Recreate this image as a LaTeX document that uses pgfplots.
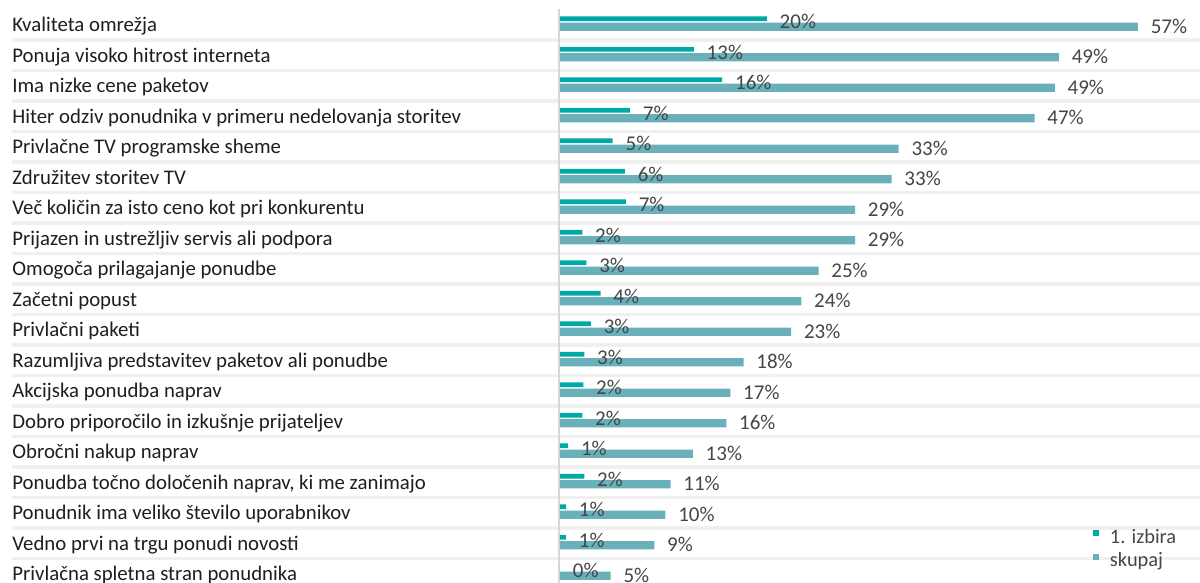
\documentclass[border=0pt]{standalone}
\usepackage{fontspec}
\setmainfont{Carlito}
\usepackage{pgfplots}
\pgfplotsset{compat=1.18}
\definecolor{cA}{RGB}{0,168,166}
\definecolor{cB}{RGB}{106,176,186}
\definecolor{sepc}{RGB}{240,240,240}
\definecolor{axl}{RGB}{215,215,215}
\definecolor{txt}{RGB}{30,30,30}
\definecolor{val}{RGB}{70,70,70}
\begin{document}
\begin{tikzpicture}
\begin{axis}[
  scale only axis, width=320pt, height=291.5pt,
  xmin=0, xmax=63.12, ymin=-0.302, ymax=18.813,
  clip=false, axis line style={draw=none},
  /pgf/number format/assume math mode=true,
  xtick=\empty, ytick={0,...,18}, major tick length=0pt,
  yticklabels={{Privlačna spletna stran ponudnika},{Vedno prvi na trgu ponudi novosti},{Ponudnik ima veliko število uporabnikov},{Ponudba točno določenih naprav, ki me zanimajo},{Obročni nakup naprav},{Dobro priporočilo in izkušnje prijateljev},{Akcijska ponudba naprav},{Razumljiva predstavitev paketov ali ponudbe},{Privlačni paketi},{Začetni popust},{Omogoča prilagajanje ponudbe},{Prijazen in ustrežljiv servis ali podpora},{Več količin za isto ceno kot pri konkurentu},{Združitev storitev TV},{Privlačne TV programske sheme},{Hiter odziv ponudnika v primeru nedelovanja storitev},{Ima nizke cene paketov},{Ponuja visoko hitrost interneta},{Kvaliteta omrežja}},
  yticklabel style={anchor=base west, inner sep=0pt, xshift=-274pt, yshift=-3.4pt, font=\fontsize{10.4}{12}\selectfont, text=txt},
  xbar, point meta=explicit,
  nodes near coords={\pgfmathprintnumber{\pgfplotspointmeta}\%},
  every node near coord/.append style={anchor=west, inner sep=0pt, xshift=6.25pt, font=\fontsize{10.5}{12}\selectfont, text=val},
  legend cell align=left,
  legend style={draw=none, fill=none, at={(0.8328,0.0926)}, anchor=north west, inner sep=0pt, outer sep=0pt, row sep=2.85pt, font=\fontsize{10.2}{12}\selectfont, text=val, nodes={inner sep=0pt, text height=7pt, text depth=2pt}, /tikz/every odd column/.append style={column sep=5.5pt}},
]
\pgfplotsinvokeforeach{0.5,1.5,2.5,3.5,4.5,5.5,6.5,7.5,8.5,9.5,10.5,11.5,12.5,13.5,14.5,15.5,16.5,17.5}{
  \draw[sepc, line width=1.6pt] (axis cs:-54.04,#1) -- (axis cs:63.12,#1);
}
\draw[axl, line width=1pt] (axis cs:-0.1,18.53) -- (axis cs:-0.1,-0.302);
\addplot[fill=cA, draw=none, bar width=2.35pt, bar shift=3.05pt,
  legend image code/.code={\fill[cA] (0pt,0.9pt) rectangle (3pt,3.9pt);},
  every node near coord/.append style={yshift=-1.55pt}]
  coordinates {(0,0) [0] (0.6,1) [1] (0.6,2) [1] (2.4,3) [2] (0.8,4) [1] (2.2,5) [2] (2.3,6) [2] (2.4,7) [3] (3.05,8) [3] (4.0,9) [4] (2.6,10) [3] (2.2,11) [2] (6.5,12) [7] (6.4,13) [6] (5.2,14) [5] (6.9,15) [7] (16.0,16) [16] (13.2,17) [13] (20.4,18) [20]};
\addlegendentry{1. izbira}
\addplot[fill=cB, draw=none, bar width=4.15pt, bar shift=-1pt,
  legend image code/.code={\fill[cB] (0pt,0.9pt) rectangle (3pt,3.9pt);},
  every node near coord/.append style={yshift=0.3pt}]
  coordinates {(5.0,0) [5] (9.3,1) [9] (10.4,2) [10] (10.9,3) [11] (13.1,4) [13] (16.4,5) [16] (16.8,6) [17] (18.1,7) [18] (22.8,8) [23] (23.8,9) [24] (25.5,10) [25] (29.1,11) [29] (29.1,12) [29] (32.7,13) [33] (33.4,14) [33] (46.8,15) [47] (48.8,16) [49] (49.2,17) [49] (57.0,18) [57]};
\addlegendentry{skupaj}
\end{axis}
\pgfresetboundingbox
\path[use as bounding box] ([xshift=-280pt]current axis.south west) rectangle (current axis.north east);
\end{tikzpicture}
\end{document}
